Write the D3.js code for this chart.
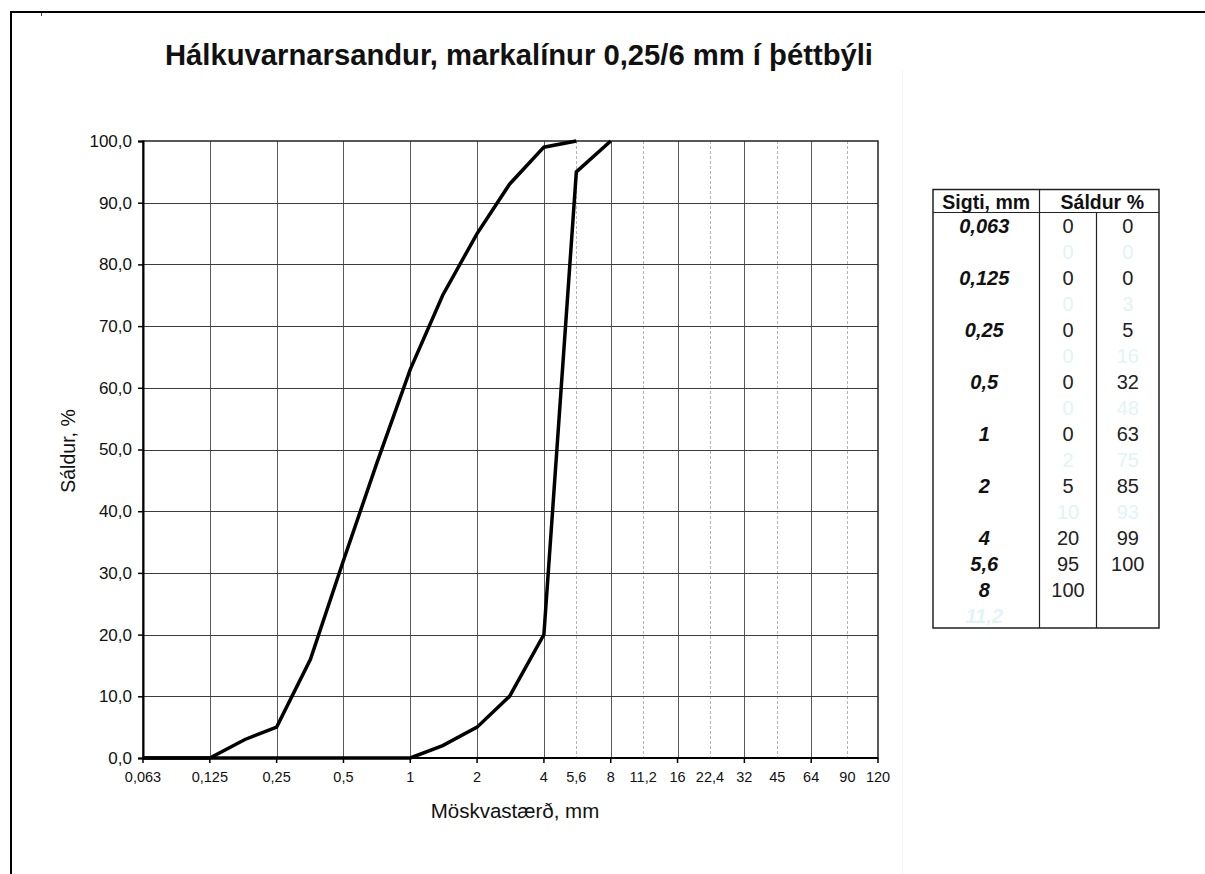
<!DOCTYPE html>
<html>
<head>
<meta charset="utf-8">
<script src="https://cdn.jsdelivr.net/npm/d3@7/dist/d3.min.js"></script>
<style>
  html, body { margin: 0; padding: 0; background: #fff; }
  svg { display: block; font-family: "Liberation Sans", Arial, sans-serif; }
</style>
</head>
<body>
<svg id="chart" width="1205" height="874"></svg>
<script>
// ---- data ----
const titleText = "Hálkuvarnarsandur, markalínur 0,25/6 mm í þéttbýli";
const xTitle = "Möskvastærð, mm";
const yTitle = "Sáldur, %";

const majorSieves = [0.063, 0.125, 0.25, 0.5, 1, 2, 4, 8, 16, 32, 64, 120];
const majorLabels = ["0,063", "0,125", "0,25", "0,5", "1", "2", "4", "8", "16", "32", "64", "120"];
const minorSieves = [5.6, 11.2, 22.4, 45, 90];
const minorLabels = ["5,6", "11,2", "22,4", "45", "90"];
const yTickValues = [0, 10, 20, 30, 40, 50, 60, 70, 80, 90, 100];

const curveSieves = [0.063, 0.09, 0.125, 0.18, 0.25, 0.355, 0.5, 0.71, 1, 1.4, 2, 2.8, 4, 5.6, 8];
const coarseLimit = [0, 0, 0, 0, 0, 0, 0, 0, 0, 2, 5, 10, 20, 95, 100];
const fineLimit   = [0, 0, 0, 3, 5, 16, 32, 48, 63, 75, 85, 93, 99, 100, null];

const tableHeaders = ["Sigti, mm", "Sáldur %"];
const tableSieve  = ["0,063", "", "0,125", "", "0,25", "", "0,5", "", "1", "", "2", "", "4", "5,6", "8", "11,2"];
const tableCoarse = ["0", "0", "0", "0", "0", "0", "0", "0", "0", "2", "5", "10", "20", "95", "100", ""];
const tableFine   = ["0", "0", "0", "3", "5", "16", "32", "48", "63", "75", "85", "93", "99", "100", "", ""];
const tableFaint  = [false, true, false, true, false, true, false, true, false, true, false, true, false, false, false, true];

// ---- layout ----
const svg = d3.select("#chart");
const plot = { left: 143, right: 878, top: 141, bottom: 758 };
const step = (plot.right - plot.left) / (majorSieves.length - 1);

// piecewise scale on log sizes: equal spacing between the major sieves
const x = d3.scaleLinear()
  .domain(majorSieves.map(Math.log))
  .range(majorSieves.map((d, i) => plot.left + i * step));
const xs = v => x(Math.log(v));
const y = d3.scaleLinear().domain([0, 100]).range([plot.bottom, plot.top]);

// frame lines
svg.append("line").attr("x1", 11).attr("x2", 1205).attr("y1", 12).attr("y2", 12)
  .attr("stroke", "#000").attr("stroke-width", 2);
svg.append("line").attr("x1", 11).attr("x2", 11).attr("y1", 11).attr("y2", 874)
  .attr("stroke", "#000").attr("stroke-width", 2);
svg.append("line").attr("x1", 41.5).attr("x2", 41.5).attr("y1", 13).attr("y2", 16)
  .attr("stroke", "#444").attr("stroke-width", 1);
svg.append("line").attr("x1", 902.5).attr("x2", 902.5).attr("y1", 70).attr("y2", 874)
  .attr("stroke", "#f3f3f3").attr("stroke-width", 1);

// title
svg.append("text")
  .attr("x", 519).attr("y", 65)
  .attr("text-anchor", "middle")
  .attr("font-size", 29).attr("font-weight", "bold").attr("fill", "#111")
  .attr("textLength", 708).attr("lengthAdjust", "spacingAndGlyphs")
  .text(titleText);

// minor vertical grid (dashed)
svg.append("g").selectAll("line").data(minorSieves).join("line")
  .attr("x1", d => Math.round(xs(d)) + 0.5).attr("x2", d => Math.round(xs(d)) + 0.5)
  .attr("y1", plot.top).attr("y2", plot.bottom)
  .attr("stroke", "#b4b4b4").attr("stroke-width", 1).attr("stroke-dasharray", "3,2");

// major vertical grid
svg.append("g").selectAll("line").data(majorSieves.slice(1, -1)).join("line")
  .attr("x1", d => Math.round(xs(d)) + 0.5).attr("x2", d => Math.round(xs(d)) + 0.5)
  .attr("y1", plot.top).attr("y2", plot.bottom)
  .attr("stroke", "#5a5a5a").attr("stroke-width", 1);

// horizontal grid
svg.append("g").selectAll("line").data(yTickValues.slice(1, -1)).join("line")
  .attr("x1", plot.left).attr("x2", plot.right)
  .attr("y1", d => Math.round(y(d)) + 0.5).attr("y2", d => Math.round(y(d)) + 0.5)
  .attr("stroke", "#3c3c3c").attr("stroke-width", 1);

// plot border
svg.append("rect")
  .attr("x", plot.left).attr("y", plot.top)
  .attr("width", plot.right - plot.left).attr("height", plot.bottom - plot.top)
  .attr("fill", "none").attr("stroke", "#222").attr("stroke-width", 1.5);

// y axis
const yAxis = d3.axisLeft(y).tickValues(yTickValues).tickSize(5).tickPadding(6)
  .tickFormat(d => d3.format(".1f")(d).replace(".", ","));
const gy = svg.append("g").attr("transform", `translate(${plot.left},0)`).call(yAxis);
gy.select(".domain").attr("stroke", "#000").attr("stroke-width", 2);
gy.selectAll(".tick line").attr("stroke", "#000").attr("stroke-width", 1.5);
gy.selectAll(".tick text").attr("font-size", 17).attr("fill", "#111")
  .attr("font-family", "Liberation Sans, Arial, sans-serif");

// x axis
const xAxisG = svg.append("g");
xAxisG.append("line").attr("x1", plot.left).attr("x2", plot.right)
  .attr("y1", plot.bottom).attr("y2", plot.bottom)
  .attr("stroke", "#000").attr("stroke-width", 2);
xAxisG.selectAll("line.tk").data(majorSieves).join("line").attr("class", "tk")
  .attr("x1", d => xs(d)).attr("x2", d => xs(d))
  .attr("y1", plot.bottom).attr("y2", plot.bottom + 5)
  .attr("stroke", "#000").attr("stroke-width", 1.5);
const allTickVals = majorSieves.concat(minorSieves);
const allTickLabels = majorLabels.concat(minorLabels);
xAxisG.selectAll("text").data(allTickVals).join("text")
  .attr("x", d => xs(d)).attr("y", 782)
  .attr("text-anchor", "middle").attr("font-size", 14.5).attr("fill", "#111")
  .text((d, i) => allTickLabels[i]);

// axis titles
svg.append("text").attr("x", 515).attr("y", 818).attr("text-anchor", "middle")
  .attr("font-size", 20.5).attr("fill", "#111").text(xTitle);
svg.append("text").attr("transform", "translate(75,451) rotate(-90)")
  .attr("text-anchor", "middle").attr("font-size", 19.5).attr("fill", "#111").text(yTitle);

// curves
const line = d3.line()
  .defined(d => d[1] !== null)
  .x(d => xs(d[0])).y(d => y(d[1]));
[coarseLimit, fineLimit].forEach(series => {
  svg.append("path")
    .datum(curveSieves.map((s, i) => [s, series[i]]))
    .attr("d", line)
    .attr("fill", "none").attr("stroke", "#000")
    .attr("stroke-width", 3.5).attr("stroke-linejoin", "miter");
});

// ---- table ----
const tbl = { left: 933, right: 1159, top: 189.5, headBottom: 212.5, bottom: 628, col1: 1039.5, col2: 1096.5 };
const rowScale = d3.scaleBand().domain(d3.range(tableSieve.length)).range([tbl.headBottom, tbl.bottom]);
const tg = svg.append("g");
tg.append("rect").attr("x", tbl.left).attr("y", tbl.top)
  .attr("width", tbl.right - tbl.left).attr("height", tbl.bottom - tbl.top)
  .attr("fill", "none").attr("stroke", "#222").attr("stroke-width", 1.5);
tg.append("line").attr("x1", tbl.left).attr("x2", tbl.right).attr("y1", tbl.headBottom).attr("y2", tbl.headBottom)
  .attr("stroke", "#222").attr("stroke-width", 1.2);
tg.append("line").attr("x1", tbl.col1).attr("x2", tbl.col1).attr("y1", tbl.top).attr("y2", tbl.bottom)
  .attr("stroke", "#222").attr("stroke-width", 1.2);
tg.append("line").attr("x1", tbl.col2).attr("x2", tbl.col2).attr("y1", tbl.headBottom).attr("y2", tbl.bottom)
  .attr("stroke", "#222").attr("stroke-width", 1.2);

tg.append("text").attr("x", (tbl.left + tbl.col1) / 2).attr("y", 209)
  .attr("text-anchor", "middle").attr("font-size", 19.5).attr("font-weight", "bold").attr("fill", "#111")
  .text(tableHeaders[0]);
tg.append("text").attr("x", (tbl.col1 + tbl.right) / 2 + 3).attr("y", 209)
  .attr("text-anchor", "middle").attr("font-size", 19.5).attr("font-weight", "bold").attr("fill", "#111")
  .text(tableHeaders[1]);

const faintColor = "#e2f4f4";
const rowY = i => rowScale(i) + rowScale.bandwidth() * 0.8;
tg.selectAll("text.s").data(tableSieve).join("text").attr("class", "s")
  .attr("x", (tbl.left + tbl.col1) / 2 - 2).attr("y", (d, i) => rowY(i))
  .attr("text-anchor", "middle").attr("font-size", 20).attr("font-weight", "bold").attr("font-style", "italic")
  .attr("fill", (d, i) => tableFaint[i] ? faintColor : "#111").text(d => d);
tg.selectAll("text.c").data(tableCoarse).join("text").attr("class", "c")
  .attr("x", (tbl.col1 + tbl.col2) / 2).attr("y", (d, i) => rowY(i))
  .attr("text-anchor", "middle").attr("font-size", 20)
  .attr("fill", (d, i) => tableFaint[i] ? faintColor : "#222").text(d => d);
tg.selectAll("text.f").data(tableFine).join("text").attr("class", "f")
  .attr("x", (tbl.col2 + tbl.right) / 2).attr("y", (d, i) => rowY(i))
  .attr("text-anchor", "middle").attr("font-size", 20)
  .attr("fill", (d, i) => tableFaint[i] ? faintColor : "#222").text(d => d);
</script>
</body>
</html>
